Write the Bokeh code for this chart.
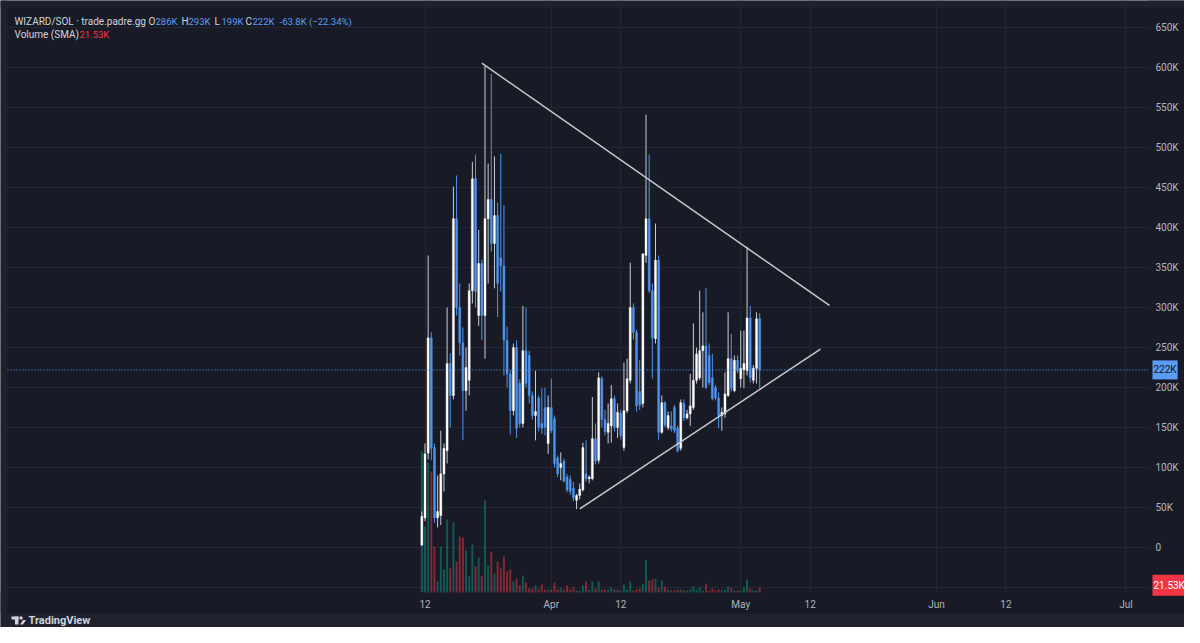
import datetime as dt
from bokeh.plotting import figure
from bokeh.models import Range1d, FixedTicker, Label, ColumnDataSource, BoxAnnotation
from bokeh.embed import file_html
from bokeh.resources import INLINE

# ---------------- data (prices and volumes in K) ----------------
first_candle = dt.datetime(2025, 3, 11, 12, 0)
candle_hours = 12

opens = [3, 37, 118, 262, 125, 37, 40, 92, 121, 230,
         190, 411, 300, 256, 196, 209, 321, 461, 290, 355,
         290, 411, 435, 380, 415, 362, 352, 259, 217, 171,
         250, 205, 155, 246, 240, 190, 165, 187, 155, 175,
         130, 175, 161, 112, 100, 108, 88, 85, 74, 59,
         65, 72, 92, 86, 86, 136, 109, 211, 160, 144,
         152, 186, 150, 168, 125, 171, 209, 300, 269, 195,
         180, 365, 411, 321, 261, 359, 144, 181, 150, 152,
         175, 149, 124, 180, 162, 167, 175, 209, 212, 246,
         252, 240, 212, 200, 187, 165, 167, 190, 236, 196,
         234, 211, 222, 221, 287, 209, 224, 286]
highs = [45, 130, 365, 269, 130, 90, 146, 130, 300, 243,
         451, 465, 330, 275, 250, 330, 482, 491, 397, 360,
         602, 480, 592, 489, 431, 492, 428, 276, 222, 255,
         259, 210, 302, 300, 246, 195, 221, 190, 199, 200,
         190, 211, 165, 115, 119, 111, 92, 90, 82, 67,
         80, 131, 134, 90, 188, 155, 219, 214, 172, 180,
         203, 190, 180, 172, 231, 236, 356, 305, 272, 234,
         368, 541, 491, 330, 405, 365, 190, 183, 170, 170,
         178, 152, 185, 185, 172, 217, 280, 250, 321, 294,
         324, 255, 242, 203, 194, 175, 219, 294, 267, 240,
         240, 271, 271, 376, 302, 228, 294, 293]
lows = [2, 33, 110, 109, 31, 25, 28, 70, 105, 150,
        185, 290, 240, 134, 171, 190, 305, 300, 277, 259,
        236, 330, 370, 324, 288, 320, 215, 200, 141, 165,
        137, 150, 150, 200, 180, 160, 134, 145, 142, 140,
        117, 143, 100, 88, 84, 81, 69, 66, 58, 48,
        60, 70, 82, 80, 84, 104, 105, 150, 140, 130,
        131, 145, 137, 135, 121, 168, 205, 260, 170, 172,
        175, 356, 318, 211, 255, 134, 142, 150, 147, 145,
        143, 119, 121, 158, 160, 152, 172, 205, 209, 200,
        198, 203, 184, 184, 149, 146, 162, 188, 195, 194,
        218, 200, 199, 215, 206, 205, 205, 199]
closes = [39, 117, 262, 124, 37, 45, 92, 124, 230, 190,
          411, 300, 256, 196, 225, 321, 461, 320, 355, 290,
          411, 435, 380, 415, 330, 352, 259, 217, 171, 250,
          149, 155, 246, 205, 190, 165, 170, 150, 149, 150,
          175, 146, 105, 92, 105, 83, 72, 70, 62, 65,
          73, 125, 86, 88, 136, 108, 212, 160, 145, 155,
          186, 150, 169, 140, 171, 211, 300, 269, 177, 178,
          367, 411, 321, 262, 359, 144, 181, 153, 165, 148,
          146, 121, 181, 162, 167, 177, 209, 242, 246, 252,
          200, 206, 186, 187, 165, 169, 192, 236, 199, 234,
          221, 224, 230, 287, 212, 224, 286, 222]
volumes = [423, 198, 390, 363, 138, 33, 138, 69, 219, 72,
           210, 93, 168, 165, 126, 48, 144, 78, 105, 51,
           276, 81, 123, 57, 93, 72, 108, 63, 69, 33,
           42, 21, 51, 30, 12, 12, 21, 12, 24, 9,
           9, 9, 30, 9, 15, 9, 21, 9, 15, 6,
           6, 21, 33, 9, 33, 12, 33, 9, 9, 9,
           15, 9, 9, 6, 24, 9, 33, 6, 9, 12,
           27, 96, 36, 39, 42, 15, 36, 18, 9, 6,
           6, 9, 9, 6, 6, 9, 18, 9, 15, 6,
           27, 6, 12, 6, 9, 6, 9, 18, 15, 6,
           6, 6, 15, 39, 12, 6, 6, 15]

trend_upper_dates = [dt.datetime(2025, 3, 21, 0), dt.datetime(2025, 5, 15, 1)]
trend_upper_values = [605.4, 302.6]
trend_lower_dates = [dt.datetime(2025, 4, 5, 12), dt.datetime(2025, 5, 13, 15)]
trend_lower_values = [48.4, 247.9]

price_ticks = list(range(-50, 700, 50))
price_labels = ["" if v < 0 else ("0" if v == 0 else f"{v}K") for v in price_ticks]
date_ticks = [dt.datetime(2025, 3, 12), dt.datetime(2025, 4, 1), dt.datetime(2025, 4, 12),
              dt.datetime(2025, 5, 1), dt.datetime(2025, 5, 12), dt.datetime(2025, 6, 1),
              dt.datetime(2025, 6, 12), dt.datetime(2025, 7, 1)]
date_labels = ["12", "Apr", "12", "May", "12", "Jun", "12", "Jul"]

symbol_text = "WIZARD/SOL \u00b7 trade.padre.gg"
change_text = "-63.8K (\u221222.34%)"
volume_title = "Volume (SMA)"
volume_sma = 21.53

# ---------------- helpers ----------------
EPOCH = dt.datetime(1970, 1, 1)


def ms(d):
    return int((d - EPOCH).total_seconds() * 1000)


times = [ms(first_candle + dt.timedelta(hours=candle_hours * i)) for i in range(len(opens))]

BG = "#181B26"
EDGE = "#1F222C"
GRID = "#232733"
AXIS_TXT = "#B2B5BE"
TITLE_TXT = "#D1D4DC"
UP_BODY = "#FFFFFF"
UP_WICK = "#C9CCD3"
DN_BODY = "#4F94EE"
TAG_BLUE = "#5B9CF6"
VOL_UP = "#089981"
VOL_DN = "#F23645"
FONT = "Roboto"

W, H = 1184, 627
DAY_MS = 86400000
PX_PER_DAY = 6.315
MS_PER_PX = DAY_MS / PX_PER_DAY
anchor = ms(dt.datetime(2025, 3, 12))
x_start = anchor - 424.5 * MS_PER_PX
x_end = x_start + W * MS_PER_PX


def px_x(px):
    return x_start + px * MS_PER_PX


def px_y(py):          # price scale, K
    return (547 - py) / 0.8


def px_v(py):          # volume scale, K
    return (592 - py) * 3.0


up = [c >= o for o, c in zip(opens, closes)]
src = ColumnDataSource(dict(
    t=times, o=opens, h=highs, l=lows, c=closes, v=volumes,
    top=[max(o, c) for o, c in zip(opens, closes)],
    bot=[min(o, c) for o, c in zip(opens, closes)],
    body=[UP_BODY if u else DN_BODY for u in up],
    wick=[UP_WICK if u else DN_BODY for u in up],
    vcol=[VOL_UP if u else VOL_DN for u in up],
))

p = figure(width=W, height=H, output_backend="svg", toolbar_location=None,
           x_axis_type="datetime", y_axis_location="right",
           x_range=Range1d(x_start, x_end), y_range=Range1d(px_y(H), px_y(0)),
           min_border=0, min_border_left=0, min_border_right=0,
           min_border_top=0, min_border_bottom=0)
p.extra_y_ranges = {"vol": Range1d(px_v(H), px_v(0))}
p.background_fill_color = BG
p.border_fill_color = BG
p.outline_line_color = None

# axes drawn at fixed positions inside the canvas
p.yaxis.fixed_location = px_x(1148)
p.xaxis.fixed_location = px_y(592)
p.yaxis.ticker = FixedTicker(ticks=price_ticks)
p.yaxis.major_label_overrides = {t: s for t, s in zip(price_ticks, price_labels)}
date_ms = [ms(d) for d in date_ticks]
p.xaxis.ticker = FixedTicker(ticks=date_ms)
p.xaxis.major_label_overrides = {t: s for t, s in zip(date_ms, date_labels)}
for ax in (p.xaxis, p.yaxis):
    ax.axis_line_color = None
    ax.major_tick_line_color = None
    ax.minor_tick_line_color = None
    ax.major_tick_out = 0
    ax.major_tick_in = 0
    ax.minor_tick_out = 0
    ax.minor_tick_in = 0
    ax.major_label_text_color = AXIS_TXT
    ax.major_label_text_font = FONT
    ax.major_label_text_font_size = "10px"
p.xaxis.major_label_standoff = 6
p.yaxis.major_label_standoff = 7
p.xgrid.grid_line_color = GRID
p.ygrid.grid_line_color = GRID

# panel backgrounds (cover grid outside the pane)
for l, r, t, b, col in [(0, W, 592, 613, BG), (1148, W, 0, 613, BG),
                        (0, W, 613, H, EDGE), (0, W, 0, 7, EDGE), (0, 7, 0, 613, EDGE)]:
    p.add_layout(BoxAnnotation(left=px_x(l), right=px_x(r), top=px_y(t), bottom=px_y(b),
                               fill_color=col, fill_alpha=1.0, line_color=None,
                               level="underlay"))

# volume
p.vbar(x="t", top="v", bottom=0, width=candle_hours * 3600000 * 0.62, source=src,
       fill_color="vcol", fill_alpha=0.5, line_color=None, y_range_name="vol")

# candles
p.segment(x0="t", y0="l", x1="t", y1="h", line_color="wick", line_width=1, source=src)
p.vbar(x="t", top="top", bottom="bot", width=candle_hours * 3600000 * 0.64, source=src,
       fill_color="body", line_color="body", line_width=0.4)

# trend lines
p.segment(x0=[ms(trend_upper_dates[0]), ms(trend_lower_dates[0])],
          y0=[trend_upper_values[0], trend_lower_values[0]],
          x1=[ms(trend_upper_dates[1]), ms(trend_lower_dates[1])],
          y1=[trend_upper_values[1], trend_lower_values[1]],
          line_color="#C8CAD0", line_width=1.5)

# last price line
last_price = closes[-1]
p.segment(x0=[px_x(7)], y0=[last_price], x1=[px_x(1148)], y1=[last_price],
          line_color=TAG_BLUE, line_dash="1 2", line_width=1)

# right-axis value tags
p.add_layout(Label(x=px_x(1148), y=last_price, text=f"{last_price}K", text_align="left",
                   text_baseline="middle", text_font=FONT, text_font_size="10px",
                   text_color="#131722", background_fill_color=TAG_BLUE,
                   background_fill_alpha=1.0, padding=(1, 4), x_offset=4))
p.add_layout(Label(x=px_x(1147), y=volume_sma, y_range_name="vol", text=f"{volume_sma}K",
                   text_align="left", text_baseline="middle", text_font=FONT,
                   text_font_size="10px", text_color="#FFFFFF",
                   background_fill_color=VOL_DN, background_fill_alpha=1.0,
                   padding=(1, 5), x_offset=5))

# legend texts
ohlc_vals = [opens[-1], highs[-1], lows[-1], closes[-1]]
row1 = [(symbol_text, 14, TITLE_TXT, "10px")]
for letter, x0, val in zip("OHLC", [148, 181, 214, 245], ohlc_vals):
    row1.append((letter, x0, TITLE_TXT, "10px"))
    row1.append((f"{val}K", x0 + 7, TAG_BLUE, "9.5px"))
row1.append((change_text, 279, TAG_BLUE, "9.5px"))
for txt, x0, col, fs in row1:
    p.add_layout(Label(x=px_x(x0), y=px_y(20.5), text=txt, text_align="left",
                       text_baseline="middle", text_font=FONT, text_font_size=fs,
                       text_color=col))
p.add_layout(Label(x=px_x(14), y=px_y(34), text=volume_title, text_align="left",
                   text_baseline="middle", text_font=FONT, text_font_size="10px",
                   text_color=TITLE_TXT))
p.add_layout(Label(x=px_x(79), y=px_y(34), text=f"{volume_sma}K", text_align="left",
                   text_baseline="middle", text_font=FONT, text_font_size="9.5px",
                   text_color=VOL_DN))

# brand in footer
p.add_layout(Label(x=px_x(28), y=px_y(620), text="TradingView", text_align="left",
                   text_baseline="middle", text_font=FONT, text_font_size="11px",
                   text_font_style="bold", text_color=TITLE_TXT))
p.add_layout(BoxAnnotation(left=px_x(11), right=px_x(18), top=px_y(616), bottom=px_y(619),
                           fill_color=TITLE_TXT, fill_alpha=1.0, line_color=None))
p.add_layout(BoxAnnotation(left=px_x(14.5), right=px_x(18), top=px_y(616), bottom=px_y(624),
                           fill_color=TITLE_TXT, fill_alpha=1.0, line_color=None))
p.scatter(x=[px_x(20.5)], y=[px_y(617.5)], size=3.5, color=TITLE_TXT, line_color=None)
p.patch(x=[px_x(19.5), px_x(22.5), px_x(25.5), px_x(22.5)],
        y=[px_y(624), px_y(619.5), px_y(619.5), px_y(624)], color=TITLE_TXT, line_color=None)

open("out.html", "w").write(file_html(p, INLINE))
